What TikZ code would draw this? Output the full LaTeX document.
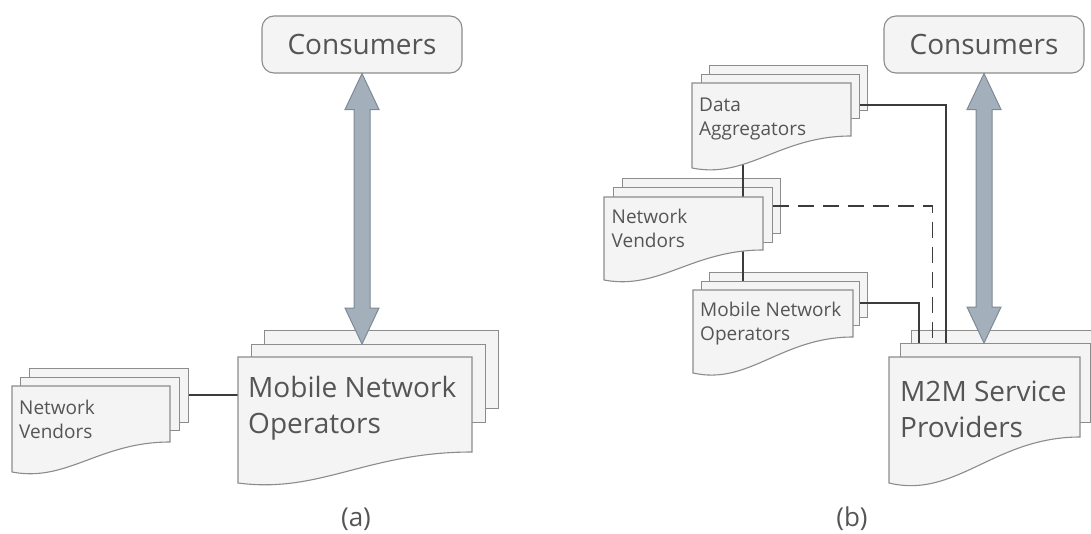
\documentclass[tikz,border=0pt]{standalone}
\usepackage{fontspec}
\setmainfont{Open Sans}
\usetikzlibrary{calc}
\definecolor{sheetfill}{HTML}{F3F4F3}
\definecolor{sheetline}{HTML}{8C8C8C}
\definecolor{txt}{HTML}{555555}
\definecolor{connc}{HTML}{3C3C3C}
\definecolor{arrfill}{HTML}{A3B0BB}
\definecolor{arrline}{HTML}{7D8B96}
% name, x1, ytop, x2, yright, yleft
\newcommand{\frontsheet}[6]{%
  \pgfmathsetmacro\fsw{#4-#2}%
  \pgfmathsetmacro\fsd{#6-#5}%
  \path[sheet] (#2,#3) coordinate (#1-nw) -- (#4,#3) coordinate (#1-ne) -- (#4,#5)
    .. controls ({#2+0.55*\fsw},#5) and ({#2+0.35*\fsw},{#6+0.35*\fsd}) .. (#2,#6) coordinate (#1-sw) -- cycle;}
\tikzset{
  sheet/.style={fill=sheetfill, draw=sheetline, line width=1.1pt},
  layer/.style={sheet, rectangle, inner sep=0pt, anchor=north west},
  bigtxt/.style={inner sep=0pt, anchor=base west, align=left, text=txt, font=\fontsize{28}{36}\selectfont},
  smalltxt/.style={inner sep=0pt, anchor=base west, align=left, text=txt, font=\fontsize{19}{23.5}\selectfont},
  conn/.style={draw=connc, line width=1.4pt},
  dashconn/.style={conn, dash pattern=on 16pt off 9pt},
  consbox/.style={rectangle, rounded corners=12pt, fill=sheetfill, draw=sheetline, line width=1.1pt,
    minimum width=200pt, minimum height=57pt, inner sep=0pt, text=txt, font=\fontsize{28}{34}\selectfont},
  bigarrow/.style={fill=arrfill, draw=arrline, line width=1pt, line join=miter},
  caption/.style={text=txt, font=\fontsize{26}{30}\selectfont, anchor=base, inner sep=0pt}
}
\begin{document}
\begin{tikzpicture}[x=1pt,y=-1pt]
\clip (0,0) rectangle (1091,533);
\fill[white] (0,0) rectangle (1091,533);

% ---------- panel (a) ----------
\node[layer, minimum width=159pt, minimum height=54pt] (nvA3) at (29,368) {};
\node[layer, minimum width=159pt, minimum height=53pt] (nvA2) at (20,377) {};
\node[layer, minimum width=234pt, minimum height=78pt] (mnoA3) at (264,330) {};
\node[layer, minimum width=234pt, minimum height=78pt] (mnoA2) at (251,344) {};

% ---------- panel (b) back layers ----------
\node[layer, minimum width=158pt, minimum height=45pt] (daB3) at (709,65) {};
\node[layer, minimum width=158pt, minimum height=44pt] (daB2) at (701,74) {};
\node[layer, minimum width=158pt, minimum height=55pt] (nvB3) at (622,178) {};
\node[layer, minimum width=159pt, minimum height=55pt] (nvB2) at (613,187) {};
\node[layer, minimum width=158pt, minimum height=45pt] (mnoB3) at (709,272) {};
\node[layer, minimum width=158pt, minimum height=44pt] (mnoB2) at (701,281) {};
\node[layer, minimum width=191pt, minimum height=78pt] (m2mB3) at (911,330) {};
\node[layer, minimum width=190pt, minimum height=79pt] (m2mB2) at (900,343) {};

% ---------- helper coordinates ----------
\coordinate (ya) at (0,395);
\coordinate (yda) at (0,105);   \coordinate (xda) at (946,0);
\coordinate (ynv) at (0,206);   \coordinate (xnv) at (932.5,0);
\coordinate (ymno) at (0,303);  \coordinate (xmno) at (919,0);
\coordinate (xv) at (743,0);    \coordinate (yv) at (0,120);

% connectors (drawn under the front sheets)
\coordinate (mnoAf) at (238,357);
\draw[conn] (nvA3.east |- ya) -- (mnoAf |- ya);
\draw[conn] (daB2.east |- yda) -| (xda |- m2mB2.north);
\draw[dashconn] (nvB2.east |- ynv) -| (xnv |- m2mB2.north);
\draw[conn] (mnoB2.east |- ymno) -| (xmno |- m2mB2.north);
\draw[conn] (xv |- yv) -- (xv |- mnoB2.north);

% front sheets
\frontsheet{nvAf}{12}{386}{170}{442}{472}
\frontsheet{mnoAfr}{238}{357}{472}{452}{483}
\frontsheet{daBf}{692}{83}{851}{136}{168}
\frontsheet{nvBf}{604}{197}{763}{250}{280}
\frontsheet{mnoBf}{693}{290}{853}{337}{373}
\frontsheet{m2mBf}{889}{357}{1080}{437}{483}

% texts (anchor = baseline of the last line)
\node[smalltxt] (nvA) at (19,438) {Network\\Vendors};
\node[bigtxt] (mnoA) at (248,433) {Mobile Network\\Operators};
\node[smalltxt] (daB) at (699,135) {Data\\Aggregators};
\node[smalltxt] (nvB) at (611.5,247) {Network\\Vendors};
\node[smalltxt] (mnoB) at (700,340) {Mobile Network\\Operators};
\node[bigtxt] (m2mB) at (900,437) {M2M Service\\Providers};

% consumers and double arrows
\node[consbox] (consA) at (362,44.5) {Consumers};
\node[consbox] (consB) at (984,44.5) {Consumers};

\draw[bigarrow] let \p1=(consA.south), \p2=(mnoA2.north) in
  (\x1,\y1) -- (\x1+17pt,\y1-36pt) -- (\x1+8pt,\y1-36pt) -- (\x1+8pt,\y2+36pt) -- (\x1+17pt,\y2+36pt)
  -- (\x1,\y2) -- (\x1-17pt,\y2+36pt) -- (\x1-8pt,\y2+36pt) -- (\x1-8pt,\y1-36pt) -- (\x1-17pt,\y1-36pt) -- cycle;
\draw[bigarrow] let \p1=(consB.south), \p2=(m2mB2.north) in
  (\x1,\y1) -- (\x1+17pt,\y1-36pt) -- (\x1+8pt,\y1-36pt) -- (\x1+8pt,\y2+36pt) -- (\x1+17pt,\y2+36pt)
  -- (\x1,\y2) -- (\x1-17pt,\y2+36pt) -- (\x1-8pt,\y2+36pt) -- (\x1-8pt,\y1-36pt) -- (\x1-17pt,\y1-36pt) -- cycle;

% captions
\node[caption] (capA) at (356,526) {(a)};
\node[caption] (capB) at (852,526) {(b)};
\end{tikzpicture}
\end{document}
